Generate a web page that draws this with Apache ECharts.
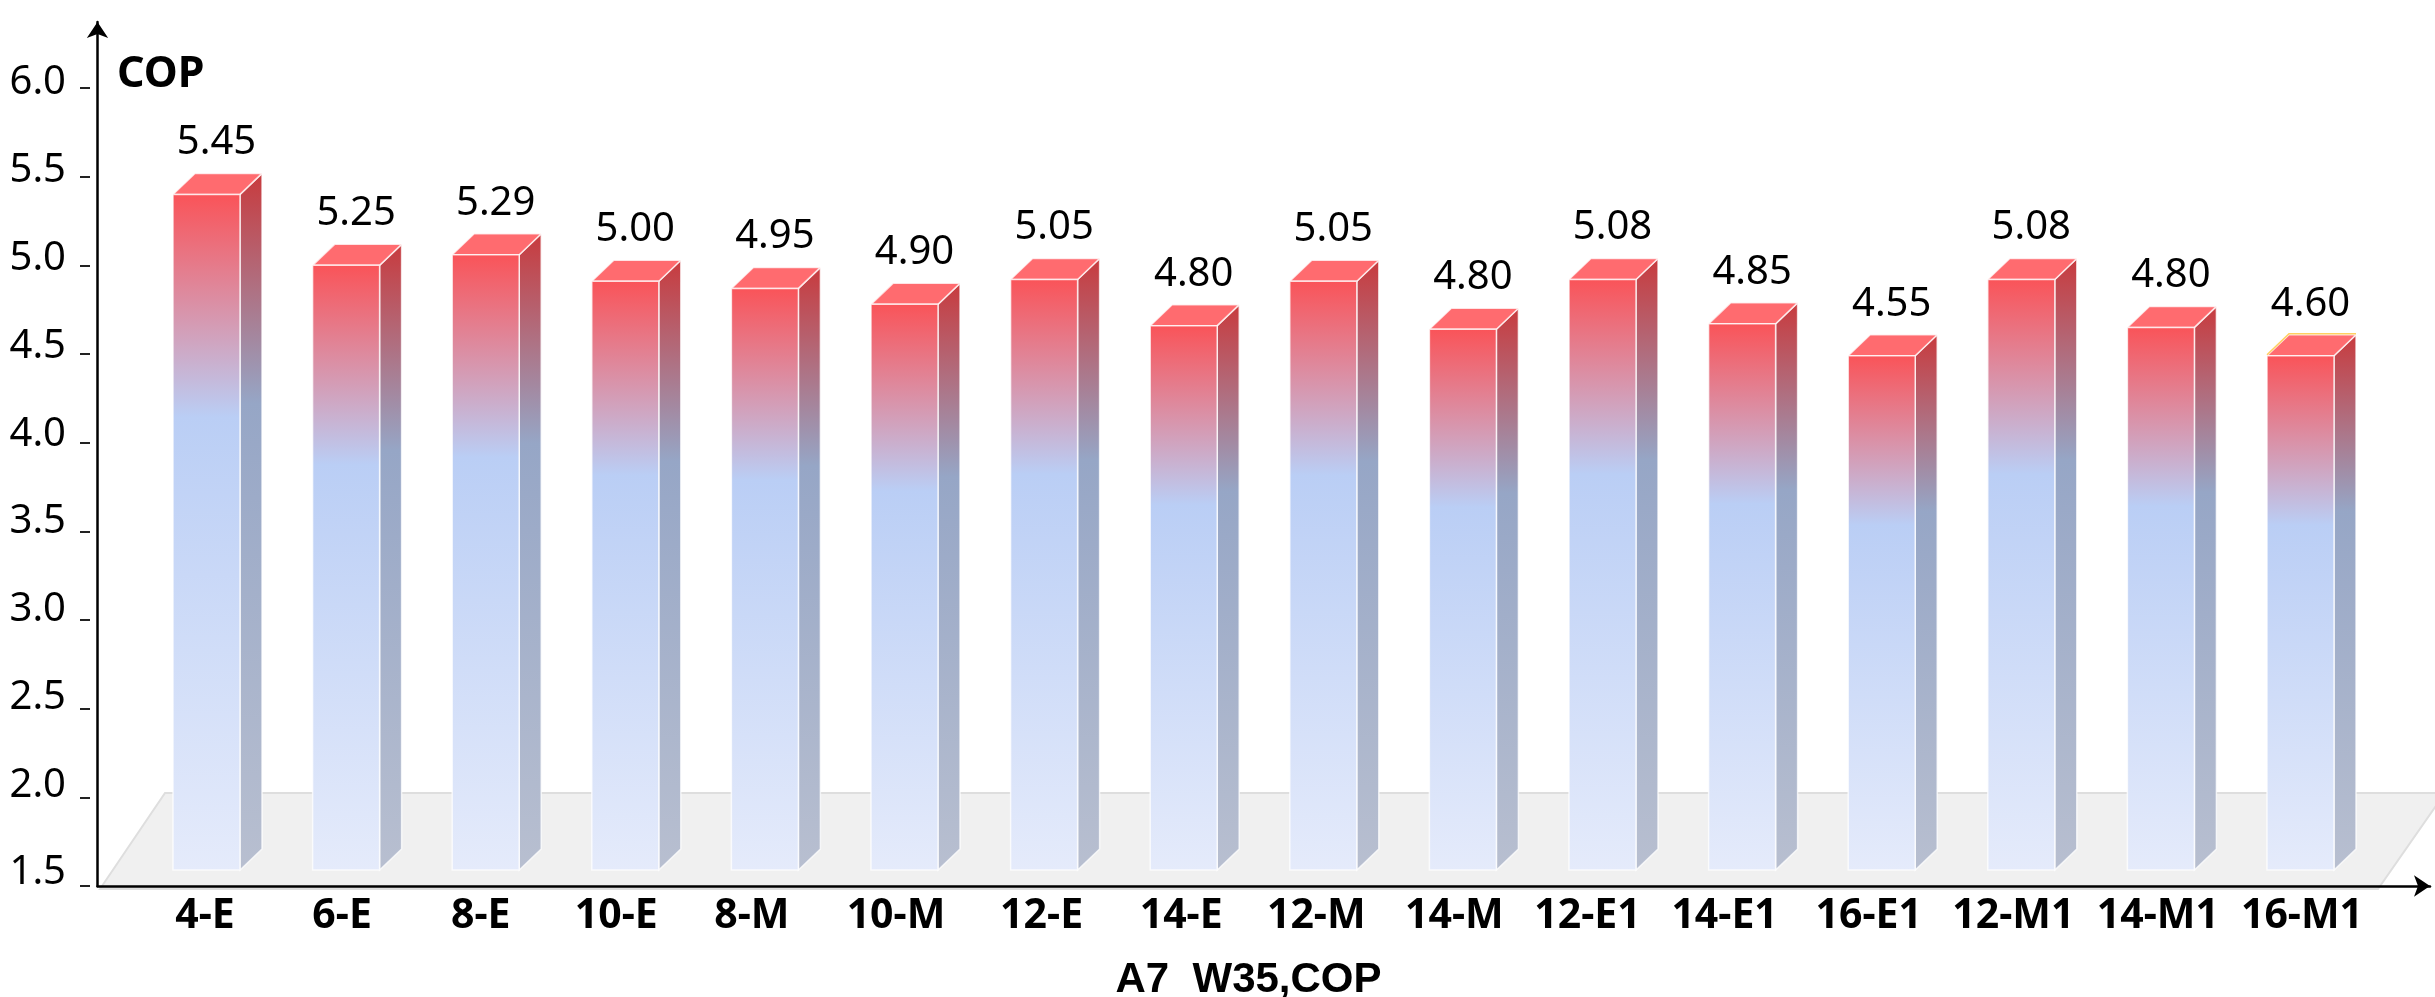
<!DOCTYPE html>
<html>
<head>
<meta charset="utf-8">
<style>html,body{margin:0;padding:0;background:#fff}#chart{width:2435px;height:997px}</style>
<script src="https://cdn.jsdelivr.net/npm/echarts@6/dist/echarts.min.js"></script>
</head>
<body>
<div id="chart"></div>
<script>
const categories = ['4-E','6-E','8-E','10-E','8-M','10-M','12-E','14-E','12-M','14-M','12-E1','14-E1','16-E1','12-M1','14-M1','16-M1'];
// heights as drawn on the axis in the picture
const drawnHeights = [5.40,5.00,5.06,4.91,4.87,4.78,4.92,4.66,4.91,4.64,4.92,4.67,4.49,4.92,4.65,4.49];
// values printed over the bars
const printedValues = ['5.45','5.25','5.29','5.00','4.95','4.90','5.05','4.80','5.05','4.80','5.08','4.85','4.55','5.08','4.80','4.60'];
const yTicks = [1.5,2.0,2.5,3.0,3.5,4.0,4.5,5.0,5.5,6.0];
const barFoot = 1.59;
const goldEdged = ['16-M1'];
// the reference's category labels sit slightly off their band centres
const labelDrift = [-1.5,-4,-5,-9,-13,-8.5,-2.5,-2.5,-7,-8.5,-15,-17.5,-13,-8,-3,1.5];

const LG = (stops) => new echarts.graphic.LinearGradient(0,0,0,1,stops.map((c,i)=>({offset:c[0],color:c[1]})));
const frontFill = LG([[0,'#fa5358'],[0.33,'#bacef5'],[1,'#e5ebfb']]);
const sideFill = LG([[0,'#c83a3d'],[0.33,'#96a6c6'],[1,'#b8bfd0']]);
const FONT = '"Noto Sans","Open Sans",sans-serif';

const xRich = {};
labelDrift.forEach((s,i)=>{
  xRich['c'+i] = {color:'#000', fontWeight:'bold', fontSize:41, fontFamily:FONT,
    padding:[0, s<0 ? -2*s : 0, 0, s>0 ? 2*s : 0]};
});

function renderBar(params, api) {
  const i = api.value(0);
  const top = api.coord([i, api.value(1)]);
  const foot = api.coord([i, barFoot]);
  const w = api.size([1,0])[0] * 0.48;
  const dx = 22, dy = 21;
  const l = top[0] - w/2, r = top[0] + w/2, t = top[1], b = foot[1];
  const children = [
    {type:'polygon', shape:{points:[[r,t],[r+dx,t-dy],[r+dx,b-dy],[r,b]]},
      style:{fill:sideFill, stroke:'rgba(255,255,255,0.75)', lineWidth:1.5}},
    {type:'polygon', shape:{points:[[l,t],[l+dx,t-dy],[r+dx,t-dy],[r,t]]},
      style:{fill:'#ff6b6f', stroke:'rgba(255,255,255,0.75)', lineWidth:1.5}},
    {type:'rect', shape:{x:l, y:t, width:w, height:b-t},
      style:{fill:frontFill, stroke:'rgba(255,255,255,0.75)', lineWidth:1.5}},
    {type:'text', style:{text:printedValues[i], x:top[0]+dx/2-1, y:t-dy-10.5, align:'center', verticalAlign:'bottom',
      fill:'#000', font:'40px '+FONT}}
  ];
  if (goldEdged.includes(categories[i])) {
    children.push({type:'polyline', shape:{points:[[l,t-1],[l+dx,t-dy-1],[r+dx,t-dy-1]]},
      style:{fill:null, stroke:'#ffd060', lineWidth:1.5}});
  }
  return {type:'group', children};
}

const chart = echarts.init(document.getElementById('chart'), null, {renderer:'canvas'});
chart.setOption({
  animation:false,
  backgroundColor:'#fff',
  textStyle:{fontFamily:FONT},
  graphic:[{type:'polygon', z:-1, silent:true,
    shape:{points:[[100,889],[165,793],[2445,793],[2378,889]]},
    style:{fill:'#f0f0f0', stroke:'#dedede', lineWidth:2}}],
  grid:[
    {left:136.7, right:64.7, top:88, bottom:111, outerBoundsMode:'none'},
    {left:97.5, right:5, top:22, bottom:111, outerBoundsMode:'none'},
    {left:136.7, right:64.7, top:83, bottom:124, outerBoundsMode:'none'}
  ],
  xAxis:[
    {type:'category', gridIndex:0, data:categories,
      axisLine:{show:false}, axisTick:{show:false}, splitLine:{show:false},
      axisLabel:{interval:0, color:'#000', margin:10, rich:xRich,
        formatter:(v,i)=>'{c'+i+'|'+v+'}'},
      name:'A7  W35,COP', nameLocation:'middle', nameGap:73,
      nameTextStyle:{color:'#000', fontWeight:'bold', fontSize:42, fontFamily:'"Liberation Sans",Arial,sans-serif', padding:[0,10,0,0]}},
    {type:'value', gridIndex:1, min:0, max:1, splitLine:{show:false}, axisTick:{show:false}, axisLabel:{show:false},
      axisLine:{show:true, symbol:['none','arrow'], symbolSize:[16,16], lineStyle:{color:'#000', width:2.5}}},
    {type:'value', gridIndex:2, min:0, max:1, show:false}
  ],
  yAxis:[
    {type:'value', gridIndex:0, min:1.5, max:6, interval:0.5, position:'left', offset:46.7,
      splitLine:{show:false},
      axisLine:{show:false},
      axisTick:{show:true, length:10, lineStyle:{color:'#222', width:2}},
      axisLabel:{show:false},
      name:'COP', nameLocation:'end', nameGap:13,
      nameTextStyle:{color:'#000', fontWeight:'bold', fontSize:43, align:'left', verticalAlign:'middle', padding:[0,0,0,27]}},
    {type:'value', gridIndex:1, min:0, max:1, splitLine:{show:false}, axisTick:{show:false}, axisLabel:{show:false},
      axisLine:{show:true, symbol:['none','arrow'], symbolSize:[16,16], lineStyle:{color:'#000', width:2.5}}},
    {type:'value', gridIndex:2, min:1.5, max:6, interval:0.5, position:'left', offset:46.7,
      splitLine:{show:false}, axisLine:{show:false}, axisTick:{show:false},
      axisLabel:{color:'#000', fontSize:40, margin:24,
        formatter:(v)=>yTicks.includes(v)?v.toFixed(1):''}}
  ],
  series:[{
    type:'custom', xAxisIndex:0, yAxisIndex:0, z:5, clip:false,
    encode:{x:0,y:1},
    data:drawnHeights.map((h,i)=>[i,h]),
    renderItem:renderBar
  }]
});
</script>
</body>
</html>
